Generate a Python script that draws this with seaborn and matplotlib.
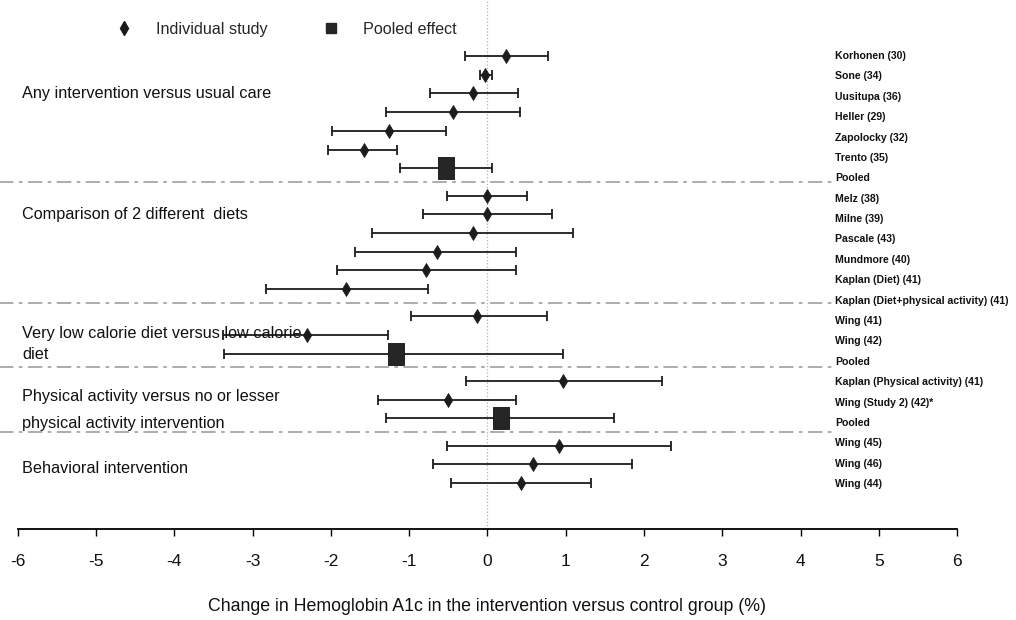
import matplotlib
matplotlib.use("Agg")
import matplotlib.pyplot as plt
import matplotlib.transforms as mtransforms
from matplotlib.lines import Line2D
from matplotlib.path import Path
import numpy as np
import pandas as pd
import seaborn as sns

# values (change in HbA1c, %)
study_labels = [
    "Korhonen (30)", "Sone (34)", "Uusitupa (36)", "Heller (29)", "Zapolocky (32)", "Trento (35)", "Pooled",
    "Melz (38)", "Milne (39)", "Pascale (43)", "Mundmore (40)", "Kaplan (Diet) (41)",
    "Kaplan (Diet+physical activity) (41)",
    "Wing (41)", "Wing (42)", "Pooled",
    "Kaplan (Physical activity) (41)", "Wing (Study 2) (42)*", "Pooled",
    "Wing (45)", "Wing (46)", "Wing (44)",
]
effect = [0.24, -0.03, -0.18, -0.44, -1.26, -1.57, -0.53,
          0.00, 0.00, -0.19, -0.64, -0.78, -1.80,
          -0.13, -2.30, -1.17,
          0.97, -0.50, 0.18,
          0.92, 0.58, 0.43]
ci_low = [-0.28, -0.10, -0.73, -1.30, -1.98, -2.03, -1.12,
          -0.51, -0.82, -1.47, -1.69, -1.92, -2.83,
          -0.97, -3.38, -3.36,
          -0.27, -1.40, -1.29,
          -0.51, -0.69, -0.47]
ci_high = [0.77, 0.06, 0.39, 0.42, -0.53, -1.15, 0.06,
           0.51, 0.83, 1.09, 0.37, 0.37, -0.76,
           0.76, -1.27, 0.96,
           2.23, 0.37, 1.62,
           2.35, 1.85, 1.33]
group_id = [0] * 7 + [1] * 6 + [2] * 3 + [3] * 3 + [4] * 3
kind = ["Pooled effect" if s == "Pooled" else "Individual study" for s in study_labels]

group_titles = [
    "Any intervention versus usual care",
    "Comparison of 2 different  diets",
    "Very low calorie diet versus low calorie",
    "diet",
    "Physical activity versus no or lesser",
    "physical activity intervention",
    "Behavioral intervention",
]
group_title_group = [0, 1, 2, 2, 3, 3, 4]
group_title_rows = [2, 8, 13.9, 15.05, 16.85, 18.25, 20.2]

x_ticks = list(range(-6, 7))
x_label = "Change in Hemoglobin A1c in the intervention versus control group (%)"

# layout
GROUP_GAP = 0.46       # extra space between groups (in row units)
LABEL_STEP = 1.09      # right-hand labels are spaced a bit wider than the rows
INK = "#1c1c1c"

df = pd.DataFrame({"study": study_labels, "effect": effect, "lo": ci_low, "hi": ci_high,
                   "group": group_id, "kind": kind})
df["row"] = np.arange(len(df)) + GROUP_GAP * df["group"]

sns.set_theme(style="white")
plt.rcParams["font.family"] = ["Liberation Sans", "DejaVu Sans"]

fig = plt.figure(figsize=(10.16, 6.2), dpi=100)
ax = fig.add_axes([0.0174, 0.1468, 0.9246, 0.8532])

# vertical reference line at zero
ax.axvline(0, color="#b0b0b0", ls=":", lw=0.9, zorder=0)

# confidence intervals
ax.errorbar(df["effect"], df["row"],
            xerr=[df["effect"] - df["lo"], df["hi"] - df["effect"]],
            fmt="none", ecolor=INK, elinewidth=1.3, capsize=3.6, capthick=1.3, zorder=2)

# point estimates
rect = Path([(-0.7, -1), (0.7, -1), (0.7, 1), (-0.7, 1), (-0.7, -1)],
            [Path.MOVETO, Path.LINETO, Path.LINETO, Path.LINETO, Path.CLOSEPOLY])
sns.scatterplot(data=df[df["kind"] == "Individual study"], x="effect", y="row",
                marker="d", s=50, color=INK, edgecolor=INK, linewidth=0.6,
                ax=ax, zorder=3, legend=False)
sns.scatterplot(data=df[df["kind"] == "Pooled effect"], x="effect", y="row",
                marker=rect, s=240, color="#262626", edgecolor="#111111", linewidth=0.6,
                ax=ax, zorder=3, legend=False)

# group separators (dash-dot, running under the labels on the left)
grp_last = df.groupby("group")["row"].max().values[:-1]
grp_first = df.groupby("group")["row"].min().values[1:]
for y in (grp_last + grp_first) / 2:
    ax.hlines(y, -6.25, 4.4, colors="#a6a6a6", lw=1.3,
              linestyles=(0, (8, 3, 2, 3)), clip_on=False, zorder=1)

# group titles on the left
left_tr = mtransforms.blended_transform_factory(fig.transFigure, ax.transData)
for title, g, r in zip(group_titles, group_title_group, group_title_rows):
    ax.text(0.0217, r + GROUP_GAP * g, title, transform=left_tr, fontsize=11.7,
            color="#111111", ha="left", va="center")

# study labels on the right
for i, lab in enumerate(study_labels):
    ax.text(0.822, i * LABEL_STEP, lab, transform=left_tr, fontsize=7.6,
            fontweight="bold", color="#111111", ha="left", va="center")

# axes
ax.set_xlim(-6, 6)
ax.set_ylim(25.29, -2.995)
ax.set_xticks(x_ticks)
ax.set_xticklabels([str(t) for t in x_ticks])
ax.set_yticks([])
ax.set_ylabel("")
ax.set_xlabel(x_label, fontsize=12.8, labelpad=21, color="#111111")
ax.tick_params(axis="x", direction="out", length=5, width=1, color="black",
               pad=13, labelsize=12.5, labelcolor="#111111", bottom=True)
sns.despine(ax=ax, left=True, top=True, right=True)
ax.spines["bottom"].set_color("black")
ax.spines["bottom"].set_linewidth(1.3)

# legend across the top
handles = [
    Line2D([], [], ls="none", marker="d", markersize=7, color=INK),
    Line2D([], [], ls="none", marker="s", markersize=7, color="#262626"),
]
fig.legend(handles, ["Individual study", "Pooled effect"], loc="upper left",
           bbox_to_anchor=(0.1, 0.988), ncol=2, frameon=False, fontsize=11.6,
           handlelength=1.0, handletextpad=1.5, columnspacing=3.4)

fig.savefig("out.png", dpi=100, facecolor="white")
